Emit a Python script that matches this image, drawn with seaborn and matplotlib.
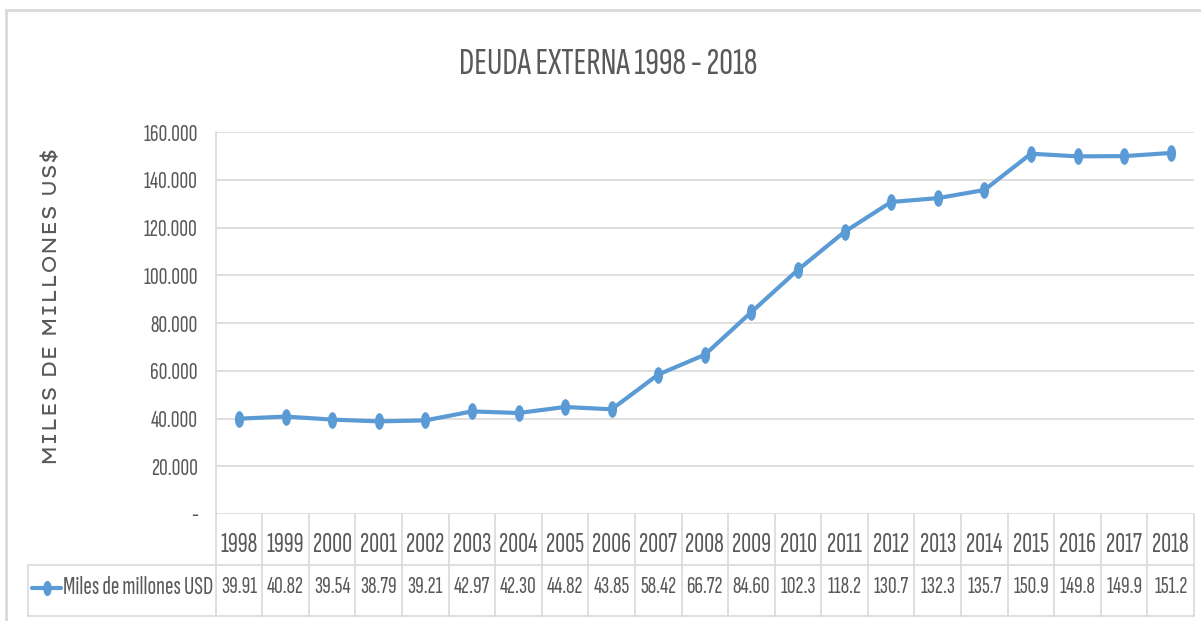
import matplotlib
matplotlib.use("Agg")
import matplotlib.pyplot as plt
import seaborn as sns
import pandas as pd
import numpy as np
from matplotlib import font_manager as fm
from matplotlib.font_manager import FontProperties
from matplotlib.textpath import TextPath
from matplotlib.path import Path
from matplotlib.transforms import Affine2D
from matplotlib.lines import Line2D
from matplotlib.patches import Rectangle

years = ["1998", "1999", "2000", "2001", "2002", "2003", "2004", "2005", "2006", "2007",
         "2008", "2009", "2010", "2011", "2012", "2013", "2014", "2015", "2016", "2017", "2018"]
deuda = [39.91, 40.82, 39.54, 38.79, 39.21, 42.97, 42.30, 44.82, 43.85, 58.42,
         66.72, 84.60, 102.3, 118.2, 130.7, 132.3, 135.7, 150.9, 149.8, 149.9, 151.2]
table_labels = ["39.91", "40.82", "39.54", "38.79", "39.21", "42.97", "42.30", "44.82", "43.85", "58.42",
                "66.72", "84.60", "102.3", "118.2", "130.7", "132.3", "135.7", "150.9", "149.8", "149.9", "151.2"]
y_ticks = [0, 20, 40, 60, 80, 100, 120, 140, 160]
y_tick_labels = ["-", "20.000", "40.000", "60.000", "80.000", "100.000", "120.000", "140.000", "160.000"]
series_name = "Miles de millones USD"
title = "DEUDA EXTERNA 1998 - 2018"
ylabel = "MILES DE MILLONES US$"

sns.set_theme(style="white")
installed = {f.name for f in fm.fontManager.ttflist}
NARROW_MAIN = "Sofia Sans Extra Condensed"
if NARROW_MAIN not in installed:
    NARROW_MAIN = "Pathway Gothic One" if "Pathway Gothic One" in installed else "DejaVu Sans"
NARROW = [NARROW_MAIN, "DejaVu Sans"]
plt.rcParams["font.family"] = NARROW

DPI = 100


def extents(text, family):
    fp = FontProperties(family=family, size=100)
    return TextPath((0, 0), text, prop=fp).get_extents()


def fit_size(text, px, family):
    return px * 72.0 / DPI * 100.0 / extents(text, family).width


# pick a wide, tracked font for the y label (long and thin letters)
target_ratio = 312 / 15.0
best, best_err = "DejaVu Sans", 1e9
for cand in ["Lexend Giga", "Lexend Mega", "Lexend Peta", "Lexend Zetta", "Montserrat", "DejaVu Sans"]:
    if cand in installed:
        e = extents("MILES DE MILLONES USE", cand)
        err = abs(e.width / e.height - target_ratio)
        if err < best_err:
            best, best_err = cand, err
YLAB_FONT = best

TXT = "#595959"
GRID = "#D9D9D9"
BLUE = "#5B9BD5"

fs_tick = fit_size("160.000", 53, NARROW_MAIN)
fs_year = fit_size("1998", 36, NARROW_MAIN)
fs_val = fit_size("39.91", 35, NARROW_MAIN)
fs_leg = fit_size(series_name, 148, NARROW_MAIN)
fs_title = fit_size(title, 295, NARROW_MAIN)
fs_ylab = fit_size(ylabel, 312, YLAB_FONT)

W, H = 1201, 621
fig = plt.figure(figsize=(W / DPI, H / DPI), dpi=DPI)
ax_l, ax_r, ax_t, ax_b = 215.7, 1194, 132, 514
ax = fig.add_axes([ax_l / W, 1 - ax_b / H, (ax_r - ax_l) / W, (ax_b - ax_t) / H])

df = pd.DataFrame({"pos": np.arange(len(years)), "valor": deuda})
ell = Path.unit_circle().transformed(Affine2D().scale(0.55, 1.0))
sns.lineplot(data=df, x="pos", y="valor", ax=ax, color=BLUE, linewidth=3,
             marker=ell, markersize=12, markeredgewidth=0, markerfacecolor=BLUE)

ax.set_xlim(-0.5, len(years) - 0.5)
ax.set_ylim(0, 160)
ax.set_yticks(y_ticks)
ax.set_yticklabels(y_tick_labels, fontsize=fs_tick, color=TXT)
ax.set_xticks(np.arange(len(years)))
ax.set_xticklabels(years, fontsize=fs_year, color=TXT)
ax.tick_params(axis="y", length=0, pad=13)
ax.tick_params(axis="x", length=0, pad=14)
ax.set_xlabel("")
ax.set_ylabel("")
ax.grid(axis="y", color=GRID, linewidth=1.2)
ax.grid(axis="x", visible=False)
for s in ["top", "right", "bottom"]:
    ax.spines[s].set_visible(False)
ax.spines["left"].set_color(GRID)
ax.spines["left"].set_linewidth(1.2)

# data table below the axes
ph = ax_b - ax_t
row1 = -(565 - ax_b) / ph
row2 = -(616 - ax_b) / ph
tr = ax.get_xaxis_transform()
for i in range(len(years) + 1):
    ax.add_line(Line2D([i - 0.5, i - 0.5], [0, row2], transform=tr, color=GRID, lw=1.2, clip_on=False))
x_left_data = ax.transData.inverted().transform(fig.transFigure.transform((28 / W, 0)))[0]
for yy in [row1, row2]:
    ax.add_line(Line2D([x_left_data, len(years) - 0.5], [yy, yy], transform=tr, color=GRID, lw=1.2, clip_on=False))
ax.add_line(Line2D([x_left_data, x_left_data], [row1, row2], transform=tr, color=GRID, lw=1.2, clip_on=False))
val_y = -(587 - ax_b) / ph
for i, lab in enumerate(table_labels):
    ax.text(i, val_y, lab, transform=tr, ha="center", va="center", fontsize=fs_val, color=TXT)

# legend key in the table
ymid = 1 - 588 / H
fig.add_artist(Line2D([32 / W, 61 / W], [ymid, ymid], transform=fig.transFigure, color=BLUE, lw=3))
fig.add_artist(Line2D([47 / W], [ymid], transform=fig.transFigure, color=BLUE, marker=ell,
                      markersize=11, markeredgewidth=0, linestyle="none"))
fig.text(63 / W, ymid, series_name, ha="left", va="center", fontsize=fs_leg, color=TXT)

# title and y label
fig.text(608 / W, 1 - 64 / H, title, ha="center", va="center", fontsize=fs_title, color=TXT)
fig.text(52 / W, 1 - 306 / H, ylabel, ha="center", va="center", rotation=90,
         fontsize=fs_ylab, color=TXT, family=[YLAB_FONT, "DejaVu Sans"])

# chart border
fig.add_artist(Rectangle((6 / W, -0.1), 1.2, 1 - 10 / H + 0.1, transform=fig.transFigure,
                         fill=False, edgecolor=GRID, lw=2))

fig.savefig("out.png", dpi=DPI)
